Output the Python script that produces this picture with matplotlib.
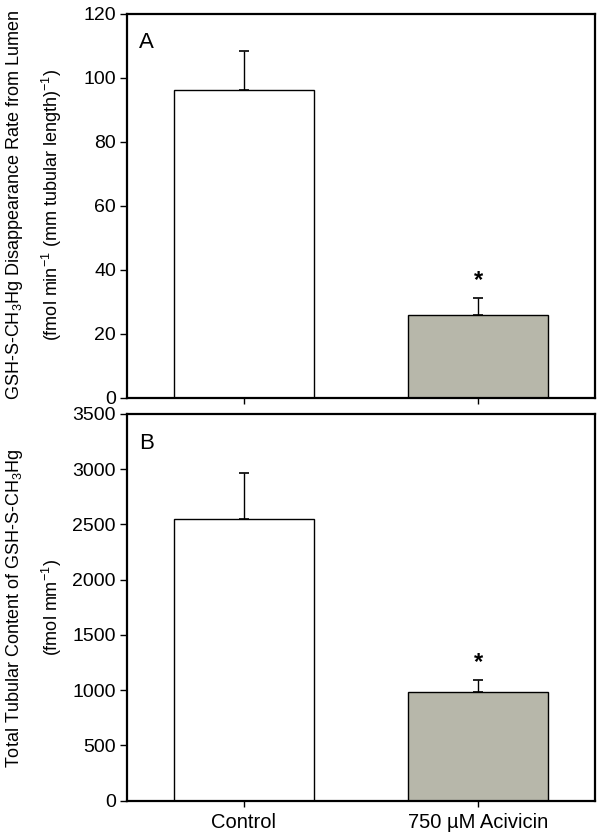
import numpy as np
import matplotlib.pyplot as plt

plt.rcParams['font.family'] = ['Liberation Sans', 'DejaVu Sans']
plt.rcParams['mathtext.fontset'] = 'custom'
plt.rcParams['mathtext.rm'] = 'Liberation Sans'
plt.rcParams['mathtext.it'] = 'Liberation Sans'

# datos
groups = ['Control', '750 \u00b5M Acivicin']
rate_mean = [96.2, 26.0]
rate_err = [12.2, 5.3]
content_mean = [2553, 980]
content_err = [417, 112]
colors = ['white', '#b7b7aa']

fig = plt.figure(figsize=(6.04, 8.4), dpi=100)
W, H = 604, 840
axA = fig.add_axes([127/W, 1-397.7/H, 468/W, 383.7/H])
axB = fig.add_axes([127/W, 1-800.7/H, 468/W, 386.7/H])

x = np.arange(len(groups))

def panel(ax, mean, err, ymax, ystep, star_y, letter):
    ax.bar(x, mean, width=0.6, color=colors, edgecolor='black', linewidth=1.0, zorder=2)
    ax.errorbar(x, mean, yerr=[[0, 0], err], fmt='none', ecolor='black',
                elinewidth=1.0, capsize=3.5, capthick=1.2, zorder=3)
    ax.text(x[1], star_y, '*', ha='center', va='center', fontsize=17, fontweight='bold')
    ax.set_xlim(-0.5, 1.5)
    ax.set_ylim(0, ymax)
    ax.set_yticks(np.arange(0, ymax + 1, ystep))
    ax.set_xticks(x)
    for s in ax.spines.values():
        s.set_linewidth(1.6)
    ax.tick_params(axis='y', direction='out', length=5, width=1, labelsize=14, pad=3)
    ax.tick_params(axis='x', direction='out', length=4, width=1, labelsize=14.5, pad=5)
    ax.text(0.025, 0.925, letter, transform=ax.transAxes, fontsize=16, ha='left', va='center')

panel(axA, rate_mean, rate_err, 120, 20, 36.5, 'A')
panel(axB, content_mean, content_err, 3500, 500, 1250, 'B')

axA.set_xticklabels([])
axB.set_xticklabels(groups)

fig.text(15/W, 1-205/H, r'GSH-S-CH$_3$Hg Disappearance Rate from Lumen',
         rotation=90, ha='center', va='center', fontsize=13)
fig.text(52/W, 1-205/H, r'(fmol min$^{-1}$ (mm tubular length)$^{-1}$)',
         rotation=90, ha='center', va='center', fontsize=13)
fig.text(15/W, 1-608/H, r'Total Tubular Content of GSH-S-CH$_3$Hg',
         rotation=90, ha='center', va='center', fontsize=13)
fig.text(52/W, 1-608/H, r'(fmol mm$^{-1}$)',
         rotation=90, ha='center', va='center', fontsize=13)

fig.savefig('out.png', dpi=100)
